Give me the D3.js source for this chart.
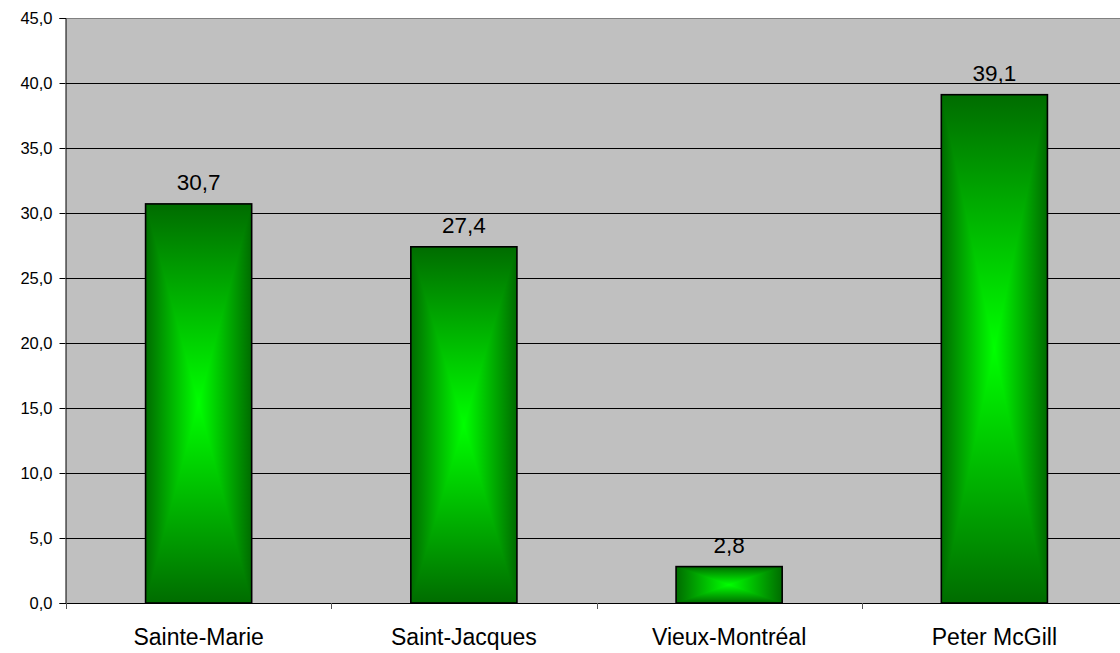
<!DOCTYPE html>
<html><head><meta charset="utf-8">
<script src="https://cdn.jsdelivr.net/npm/d3@7"></script>
<style>body{margin:0;background:#fff;}svg{display:block;font-family:"Liberation Sans",Arial,sans-serif;}</style>
</head><body>
<svg id="chart" width="1120" height="653"></svg>
<script>
const categories = ["Sainte-Marie", "Saint-Jacques", "Vieux-Montréal", "Peter McGill"];
const values = [30.7, 27.4, 2.8, 39.1];
const valueLabels = ["30,7", "27,4", "2,8", "39,1"];
const yTicks = [0, 5, 10, 15, 20, 25, 30, 35, 40, 45];

const svg = d3.select("#chart");
const pLeft = 66, pTop = 18, pBottom = 603, pRight = 1127;

const x = d3.scaleBand().domain(categories).range([pLeft, pRight]).paddingInner(0.6).paddingOuter(0.3);
const xb = d3.scaleBand().domain(categories).range([pLeft, pRight]);
const y = d3.scaleLinear().domain([0, 45]).range([pBottom, pTop]);
const fmt = d => d.toFixed(1).replace(".", ",");

// plot background
svg.append("rect").attr("x", pLeft).attr("y", pTop).attr("width", pRight - pLeft).attr("height", pBottom - pTop).attr("fill", "#C0C0C0");
svg.append("line").attr("x1", pLeft).attr("x2", pRight).attr("y1", pTop + 0.5).attr("y2", pTop + 0.5).attr("stroke", "#808080");

// gridlines
svg.append("g").selectAll("line").data(yTicks.filter(d => d > 0 && d < 45)).join("line")
  .attr("x1", pLeft).attr("x2", pRight)
  .attr("y1", d => Math.round(y(d)) + 0.5).attr("y2", d => Math.round(y(d)) + 0.5)
  .attr("stroke", "#000").attr("stroke-width", 1);

// gradients
const defs = svg.append("defs");
const dark = "#006C00", bright = "#00FF00";
const gh = defs.append("linearGradient").attr("id", "gH").attr("x1", 0).attr("y1", 0).attr("x2", 1).attr("y2", 0);
gh.append("stop").attr("offset", "0%").attr("stop-color", dark);
gh.append("stop").attr("offset", "50%").attr("stop-color", bright);
gh.append("stop").attr("offset", "100%").attr("stop-color", dark);
function grad(id, x1, y1, x2, y2) {
  const g = defs.append("linearGradient").attr("id", id)
    .attr("x1", x1).attr("y1", y1).attr("x2", x2).attr("y2", y2);
  g.append("stop").attr("offset", "0%").attr("stop-color", dark);
  g.append("stop").attr("offset", "100%").attr("stop-color", bright);
}
grad("gTop", 0, 0, 0, 1);
grad("gBot", 0, 1, 0, 0);

const bars = svg.append("g").selectAll("g").data(categories).join("g");
bars.each(function(c, i) {
  const g = d3.select(this);
  const x0 = x(c), w = x.bandwidth();
  const y0 = y(values[i]), y1 = y(0);
  const cx = x0 + w / 2, cy = (y0 + y1) / 2;
  g.append("rect").attr("x", x0).attr("y", y0).attr("width", w).attr("height", y1 - y0).attr("fill", "url(#gH)");
  g.append("path").attr("d", `M${x0},${y0}L${x0 + w},${y0}L${cx},${cy}Z`).attr("fill", "url(#gTop)");
  g.append("path").attr("d", `M${x0},${y1}L${x0 + w},${y1}L${cx},${cy}Z`).attr("fill", "url(#gBot)");
  g.append("rect").attr("x", x0).attr("y", y0).attr("width", w).attr("height", y1 - y0)
    .attr("fill", "none").attr("stroke", "#000").attr("stroke-width", 1.6);
  g.append("text").attr("x", cx).attr("y", y0 - 14).attr("text-anchor", "middle")
    .attr("font-size", 22.5).attr("fill", "#000").text(valueLabels[i]);
});

// y axis
const yAxis = svg.append("g").attr("transform", `translate(${pLeft - 0.5},0)`)
  .call(d3.axisLeft(y).tickValues(yTicks).tickFormat(fmt).tickSize(6).tickPadding(7));
yAxis.select(".domain").attr("stroke", "#000");
yAxis.selectAll(".tick line").attr("stroke", "#000");
yAxis.selectAll("text").attr("font-size", 16.5).attr("fill", "#000").attr("font-family", "Liberation Sans, Arial, sans-serif");

// x axis
svg.append("line").attr("x1", pLeft).attr("x2", pRight).attr("y1", pBottom + 0.5).attr("y2", pBottom + 0.5).attr("stroke", "#000");
svg.append("g").selectAll("line").data(categories).join("line")
  .attr("x1", d => Math.round(xb(d)) + 0.5).attr("x2", d => Math.round(xb(d)) + 0.5)
  .attr("y1", pBottom).attr("y2", pBottom + 6).attr("stroke", "#555");
svg.append("g").selectAll("text").data(categories).join("text")
  .attr("x", d => x(d) + x.bandwidth() / 2).attr("y", 645)
  .attr("text-anchor", "middle").attr("font-size", 23).attr("fill", "#000").text(d => d);
</script>
</body></html>
